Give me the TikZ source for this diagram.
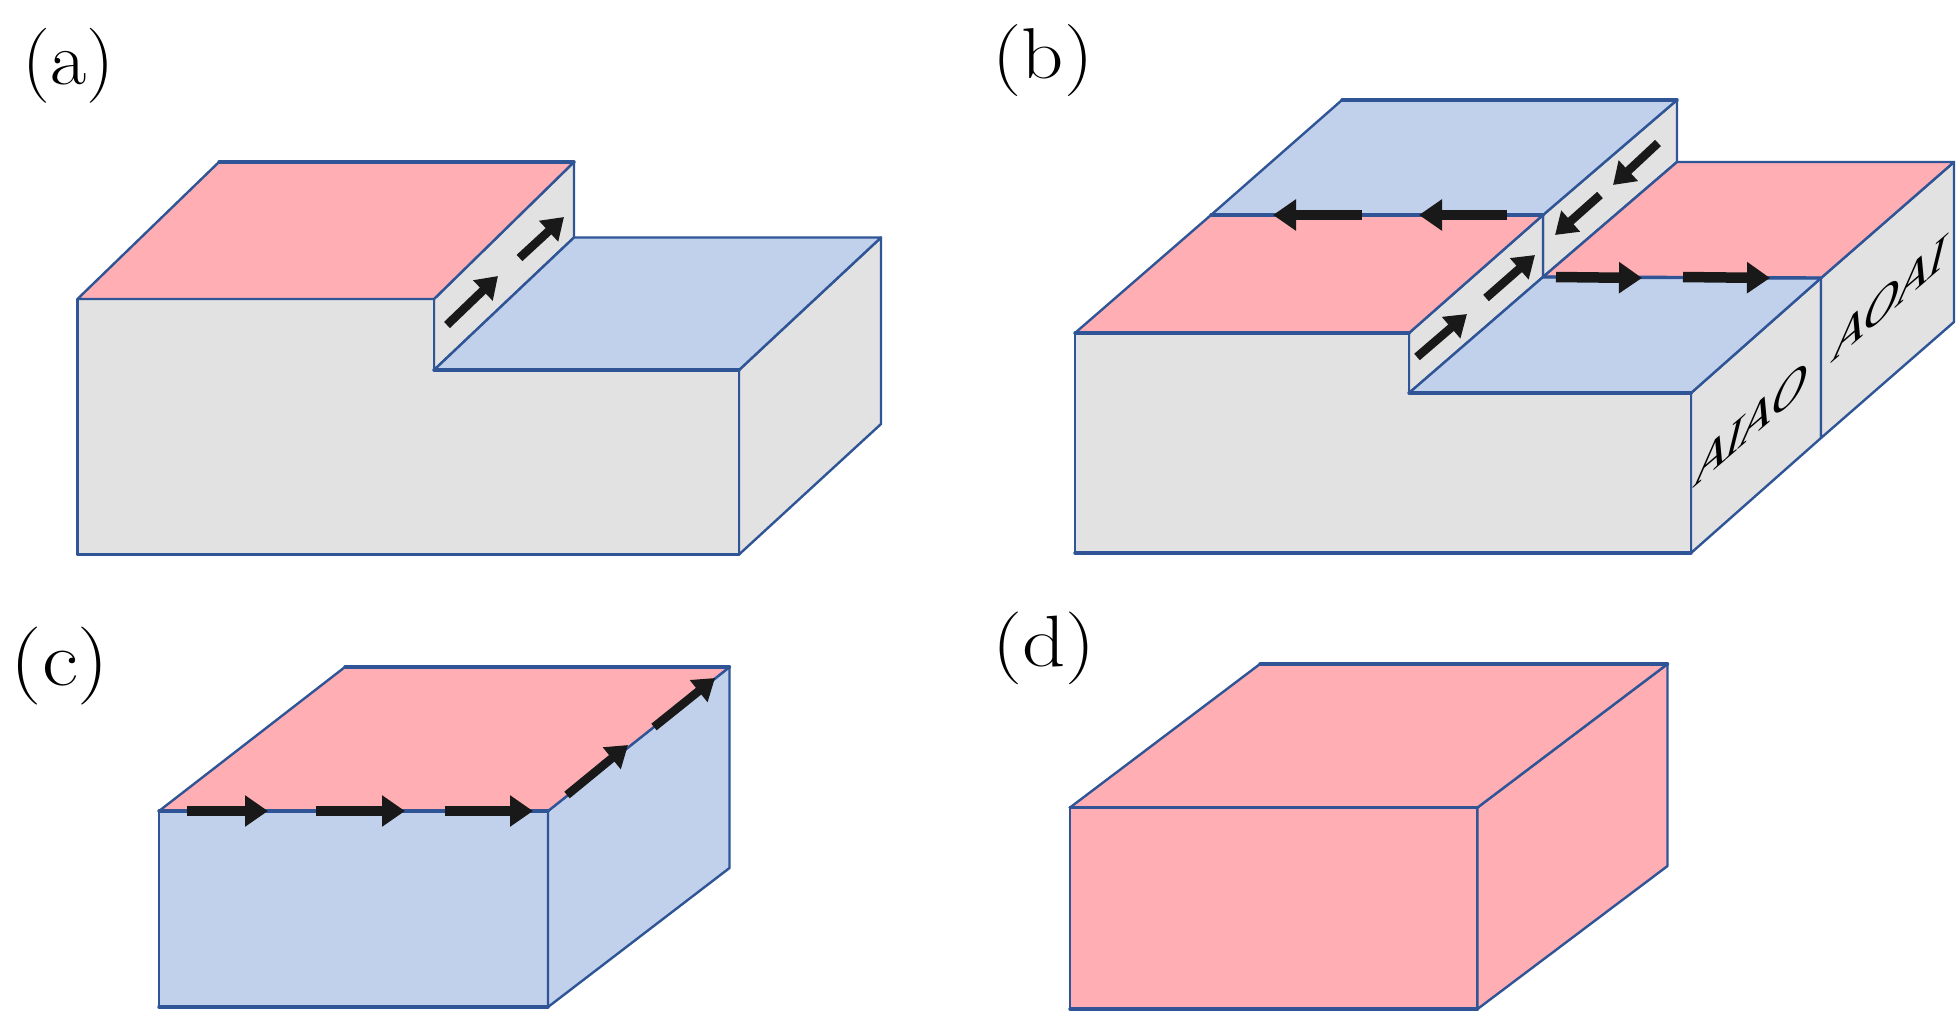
\documentclass[tikz,border=0pt]{standalone}
\usepackage{fontspec}
\usetikzlibrary{arrows.meta}
\newfontfamily\facefont[ItalicFont=* Italic]{Liberation Serif}
\definecolor{pinkface}{HTML}{FFAFB4}
\definecolor{blueface}{HTML}{C1D1EB}
\definecolor{grayface}{HTML}{E2E2E2}
\definecolor{edgeblue}{HTML}{2F5597}
\definecolor{arrowblack}{HTML}{191919}
\tikzset{
  face/.style={draw=edgeblue,line width=2.4pt,line join=round},
  pinktop/.style={face,fill=pinkface},
  bluetop/.style={face,fill=blueface},
  grayside/.style={face,fill=grayface},
  heavy/.style={draw=edgeblue,line width=3.4pt,line cap=round},
  fat/.style={draw=arrowblack,line width=10.5pt,-{Triangle[length=23pt,width=30pt]}},
  slim/.style={draw=arrowblack,line width=8.5pt,-{Triangle[length=21pt,width=27pt]}},
  panellabel/.style={font=\fontsize{75}{80}\selectfont,inner sep=0pt},
  facelabel/.style={font=\facefont\itshape\fontsize{62}{64}\selectfont,inner sep=0pt,transform shape}
}
\begin{document}
\begin{tikzpicture}[x=1pt,y=-1pt]
\useasboundingbox (0,0) rectangle (1960,1020);
\fill[white] (0,0) rectangle (1960,1020);

% panel (a)
\node[panellabel] (la) at (68.5,65.5) {\scalebox{1.05}[1]{(a)}};
\path[grayside] (434,299) -- (574,162) -- (574,237.5) -- (434,370) -- cycle;
\path[grayside] (739,370) -- (881,237.5) -- (881,424) -- (739,554.5) -- cycle;
\path[grayside] (77.5,299) -- (434,299) -- (434,370) -- (739,370) -- (739,554.5) -- (77.5,554.5) -- cycle;
\path[pinktop] (219,162) -- (574,162) -- (434,299) -- (77.5,299) -- cycle;
\path[bluetop] (574,237.5) -- (881,237.5) -- (739,370) -- (434,370) -- cycle;
\draw[heavy] (219,162) -- (574,162);
\draw[heavy] (434,370) -- (739,370);
\draw[heavy] (77.5,554.5) -- (739,554.5);
\draw[slim] (447,325) -- (498,276);
\draw[slim] (519.5,258) -- (564,217);

% panel (b)
\node[panellabel] (lb) at (1043,61) {\scalebox{1.1}[0.96]{(b)}};
\path[grayside] (1543,215) -- (1677,100) -- (1677,162) -- (1543,277) -- cycle;
\path[grayside] (1409,333) -- (1543,215) -- (1543,277) -- (1409,393) -- cycle;
\path[grayside] (1691,393) -- (1821,278) -- (1821,438) -- (1691,553) -- cycle;
\path[grayside] (1821,278) -- (1954,162) -- (1954,322) -- (1821,438) -- cycle;
\path[grayside] (1075,333) -- (1409,333) -- (1409,393) -- (1691,393) -- (1691,553) -- (1075,553) -- cycle;
\path[bluetop] (1342,100) -- (1677,100) -- (1543,215) -- (1211,215) -- cycle;
\path[pinktop] (1211,215) -- (1543,215) -- (1409,333) -- (1075,333) -- cycle;
\path[pinktop] (1677,162) -- (1954,162) -- (1821,278) -- (1543,277) -- cycle;
\path[bluetop] (1543,277) -- (1821,278) -- (1691,393) -- (1409,393) -- cycle;
\draw[heavy] (1342,100) -- (1677,100);
\draw[heavy] (1211,215) -- (1543,215);
\draw[heavy] (1075,333) -- (1409,333);
\draw[heavy] (1543,277) -- (1821,278);
\draw[heavy] (1409,393) -- (1691,393);
\draw[heavy] (1075,553) -- (1691,553);
\draw[fat] (1362,215) -- (1273,215);
\draw[fat] (1507,215) -- (1419,215);
\draw[slim] (1658,143) -- (1613,185);
\draw[slim] (1600,195) -- (1555,235);
\draw[slim] (1417,357) -- (1467,314);
\draw[slim] (1486,298) -- (1535,255);
\draw[fat] (1556,277) -- (1642,278);
\draw[fat] (1683,277) -- (1770,278);
\begin{scope}[cm={0.78,0.67,0.09,0.80,(1752,423)}]
\node[facelabel] (aiao) at (0,0) {AIAO};
\end{scope}
\begin{scope}[cm={0.78,0.67,0.09,0.80,(1890,298)}]
\node[facelabel] (aoai) at (0,0) {AOAI};
\end{scope}

% panel (c)
\node[panellabel] (lc) at (60,666) {\scalebox{1.18}[1.04]{(c)}};
\path[bluetop] (159,811) -- (548,811) -- (548,1007) -- (159,1007) -- cycle;
\path[bluetop] (548,811) -- (729.5,667) -- (729.5,868) -- (548,1007) -- cycle;
\path[pinktop] (345,667) -- (729.5,667) -- (548,811) -- (159,811) -- cycle;
\draw[heavy] (345,667) -- (729.5,667);
\draw[heavy] (159,811) -- (548,811);
\draw[heavy] (159,1007) -- (548,1007);
\draw[fat] (187,811) -- (268,811);
\draw[fat] (316,811) -- (405,811);
\draw[fat] (444.5,811) -- (533,811);
\draw[slim] (567,795) -- (628,745);
\draw[slim] (654,727) -- (715,678);

% panel (d)
\node[panellabel] (ld) at (1044,648) {\scalebox{1.13}[0.97]{(d)}};
\path[pinktop] (1070,807.5) -- (1477.5,807.5) -- (1477.5,1009) -- (1070,1009) -- cycle;
\path[pinktop] (1477.5,807.5) -- (1667.5,664) -- (1667.5,866) -- (1477.5,1009) -- cycle;
\path[pinktop] (1260,664) -- (1667.5,664) -- (1477.5,807.5) -- (1070,807.5) -- cycle;
\draw[heavy] (1260,664) -- (1667.5,664);
\draw[heavy] (1070,807.5) -- (1477.5,807.5);
\draw[heavy] (1070,1009) -- (1477.5,1009);
\end{tikzpicture}
\end{document}
